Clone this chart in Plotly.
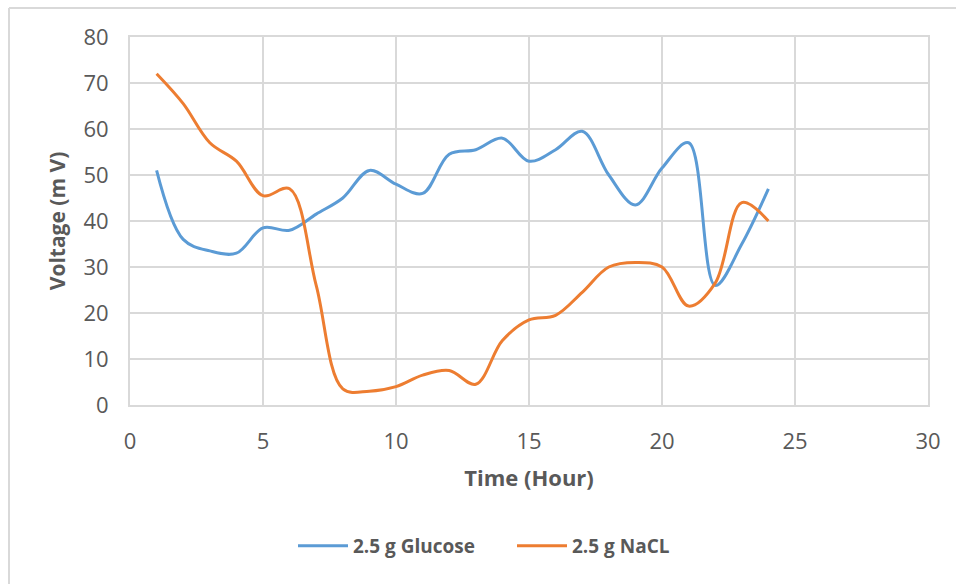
import plotly.graph_objects as go

# Sampling times (hours) and voltage readings (mV)
hours = list(range(1, 25))
glucose_mv = [51, 36, 33.5, 33, 38.5, 38, 41.5, 45, 51, 48, 46, 54.5,
              55.5, 58, 53, 55.5, 59.5, 50, 43.5, 51.5, 57, 26, 35, 47]
nacl_mv = [72, 65.5, 57, 53, 45.5, 47, 26, 3.5, 3, 4, 6.5, 7.5,
           4.5, 14, 18.5, 19.5, 24.5, 30, 31, 30, 21.5, 26.5, 44, 40]

series_names = ["2.5 g Glucose", "2.5 g NaCL"]
series_colors = ["#5B9BD5", "#ED7D31"]

FONT = "Open Sans"
TEXT_GRAY = "#595959"
GRID_GRAY = "#D9D9D9"

fig = go.Figure()
for name, values, color in zip(series_names, [glucose_mv, nacl_mv], series_colors):
    fig.add_trace(go.Scatter(
        x=hours, y=values, name=name, mode="lines",
        line=dict(color=color, width=3, shape="spline", smoothing=1),
    ))

# chart-area frame (left and top edges)
L, R, T, B = 130, 28, 37, 179
W, H = 956 - L - R, 584 - T - B

def px_x(p):
    return (p - L) / W

def px_y(p):
    return (584 - B - p) / H

fig.add_shape(type="line", xref="paper", yref="paper",
              x0=px_x(9), x1=px_x(956), y0=px_y(8), y1=px_y(8),
              line=dict(color=GRID_GRAY, width=2), layer="below")
fig.add_shape(type="line", xref="paper", yref="paper",
              x0=px_x(9), x1=px_x(9), y0=px_y(8), y1=px_y(584),
              line=dict(color=GRID_GRAY, width=2), layer="below")

axis_common = dict(
    showgrid=True, gridcolor=GRID_GRAY, gridwidth=2,
    showline=True, linecolor=GRID_GRAY, linewidth=2, mirror=True,
    zeroline=False, ticks="outside", tickcolor="rgba(0,0,0,0)",
    tickfont=dict(family=FONT, size=22, color=TEXT_GRAY),
)

fig.update_layout(
    width=956, height=584,
    margin=dict(l=L, r=R, t=T, b=B),
    paper_bgcolor="white", plot_bgcolor="white",
    xaxis=dict(range=[0, 30], dtick=5, ticklen=16,
               title=dict(text="<b>Time (Hour)</b>", standoff=16,
                          font=dict(family=FONT, size=22, color=TEXT_GRAY)),
               **axis_common),
    yaxis=dict(range=[0, 80], dtick=10, ticklen=15,
               title=dict(text="<b>Voltage (m V)</b>", standoff=12,
                          font=dict(family=FONT, size=21, color=TEXT_GRAY)),
               **axis_common),
    legend=dict(orientation="h", x=px_x(512), xanchor="center",
                y=px_y(546), yanchor="middle",
                font=dict(family=FONT, size=19, color=TEXT_GRAY, weight="bold"),
                itemwidth=50, entrywidth=154, tracegroupgap=0),
    showlegend=True,
)

fig.write_html("out.html")
